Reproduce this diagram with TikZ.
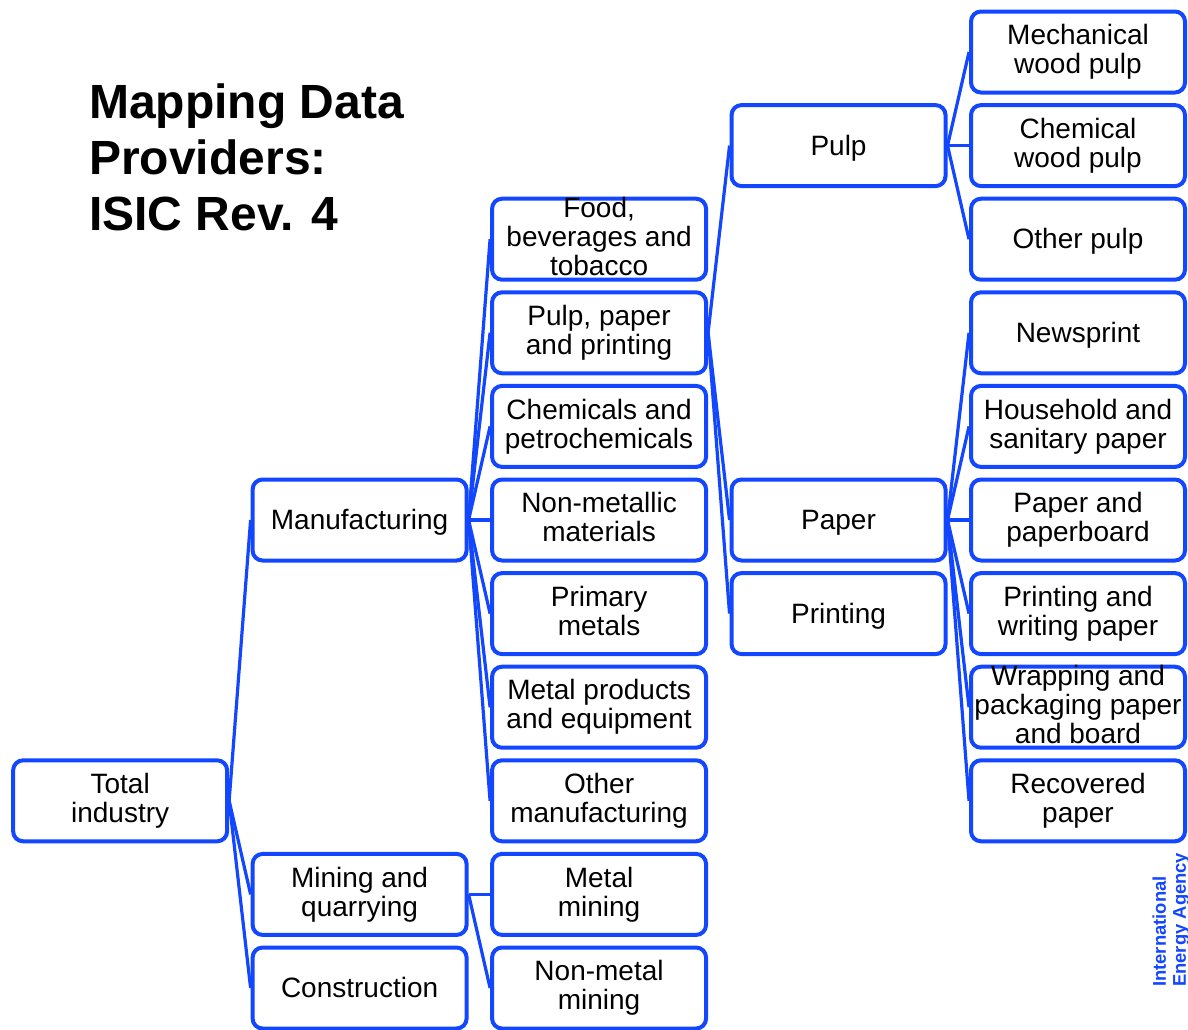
\documentclass[tikz,border=0pt]{standalone}
\usepackage{fontspec}
\setmainfont{Liberation Sans}
\usepackage{xcolor}
\usepackage{tikz}
\usetikzlibrary{positioning}
\definecolor{ieablue}{RGB}{18, 70, 255}
\tikzset{
 cell/.style={
 rectangle,
 rounded corners=7.5pt,
 draw=ieablue,
 line width=3pt,
 align=center,
 minimum width=160.5pt,
 minimum height=60.75pt,
 inner sep=0pt,
 font=\fontsize{21}{21.75}\selectfont,
 execute at begin node={\rule{0pt}{19pt}},
 execute at end node={\rule[-4.45pt]{0pt}{0pt}}
 },
 tallcell/.style={cell, inner ysep=-3.5pt},
 link/.style={draw=ieablue, line width=2.4pt}
}

\begin{document}
\begin{tikzpicture}[x=0.75pt, y=-0.75pt, node distance=6.45pt and 16.1pt]
 \useasboundingbox (0,0) rectangle (1188,1029);
 \node[anchor=north west, align=left, inner sep=0pt, font=\bfseries\fontsize{36}{42}\selectfont] (title) at (89,83) {Mapping Data\\Providers:\\ISIC Rev. 4};

 \node[cell] (mechpulp) at (1078,52) {Mechanical\\wood pulp};
 \node[cell, below=of mechpulp] (chempulp) {Chemical\\wood pulp};
 \node[cell, below=of chempulp] (othpulp) {Other pulp};
 \node[cell, below=of othpulp] (newsprint) {Newsprint};
 \node[cell, below=of newsprint] (household) {Household and\\sanitary paper};
 \node[cell, below=of household] (board) {Paper and\\paperboard};
 \node[cell, below=of board] (writing) {Printing and\\writing paper};
 \node[tallcell, below=of writing] (wrapping) {Wrapping and\\packaging paper\\and board};
 \node[cell, below=of wrapping] (recovered) {Recovered\\paper};

 \node[cell, left=of chempulp] (pulp) {Pulp};
 \node[cell, left=of board] (paper) {Paper};
 \node[cell, left=of writing] (printing) {Printing};

 \node[cell, left=of paper] (nonmet) {Non-metallic\\materials};
 \node[cell, above=of nonmet] (chem) {Chemicals and\\petrochemicals};
 \node[cell, above=of chem] (pulppaper) {Pulp, paper\\and printing};
 \node[tallcell, above=of pulppaper] (food) {Food,\\beverages and\\tobacco};
 \node[cell, below=of nonmet] (primary) {Primary\\metals};
 \node[cell, below=of primary] (metprod) {Metal products\\and equipment};
 \node[cell, below=of metprod] (othman) {Other\\manufacturing};
 \node[cell, below=of othman] (metmin) {Metal\\mining};
 \node[cell, below=of metmin] (nonmetmin) {Non-metal\\mining};

 \node[cell, left=of nonmet] (manuf) {Manufacturing};
 \node[cell, left=of metmin] (mining) {Mining and\\quarrying};
 \node[cell, left=of nonmetmin] (constr) {Construction};
 \node[cell, left=195.7pt of othman] (total) {Total\\industry};

 \node[rotate=90, anchor=south west, align=left, inner sep=0pt, text=ieablue, font=\bfseries\fontsize{13.8}{15}\selectfont] (iea) at (1190,987) {International\\Energy Agency};

 \draw[link] (total.east) -- (manuf.west);
 \draw[link] (total.east) -- (mining.west);
 \draw[link] (total.east) -- (constr.west);

 \draw[link] (manuf.east) -- (food.west);
 \draw[link] (manuf.east) -- (pulppaper.west);
 \draw[link] (manuf.east) -- (chem.west);
 \draw[link] (manuf.east) -- (nonmet.west);
 \draw[link] (manuf.east) -- (primary.west);
 \draw[link] (manuf.east) -- (metprod.west);
 \draw[link] (manuf.east) -- (othman.west);

 \draw[link] (mining.east) -- (metmin.west);
 \draw[link] (mining.east) -- (nonmetmin.west);

 \draw[link] (pulppaper.east) -- (pulp.west);
 \draw[link] (pulppaper.east) -- (paper.west);
 \draw[link] (pulppaper.east) -- (printing.west);

 \draw[link] (pulp.east) -- (mechpulp.west);
 \draw[link] (pulp.east) -- (chempulp.west);
 \draw[link] (pulp.east) -- (othpulp.west);

 \draw[link] (paper.east) -- (newsprint.west);
 \draw[link] (paper.east) -- (household.west);
 \draw[link] (paper.east) -- (board.west);
 \draw[link] (paper.east) -- (writing.west);
 \draw[link] (paper.east) -- (wrapping.west);
 \draw[link] (paper.east) -- (recovered.west);
\end{tikzpicture}
\end{document}
